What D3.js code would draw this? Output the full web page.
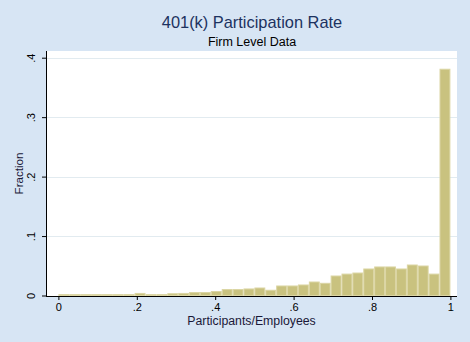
<!DOCTYPE html>
<html>
<head>
<meta charset="utf-8">
<script src="https://cdn.jsdelivr.net/npm/d3@7"></script>
<style>
  html, body { margin: 0; padding: 0; background: #d7e5f4; }
  svg { display: block; }
  text { font-family: "Liberation Sans", Arial, sans-serif; }
</style>
</head>
<body>
<svg id="chart" width="470" height="342"></svg>
<script>
// ---- data ----
const binCount = 36;
const binStart = 0;
const binEnd = 1;
const fractions = [
  0.0015, 0.0015, 0.0015, 0.0015, 0.0015, 0.0015, 0.0015, 0.0035, 0.0015, 0.0015,
  0.003, 0.0035, 0.005, 0.005, 0.0067, 0.010, 0.010, 0.011, 0.0126, 0.0088,
  0.016, 0.016, 0.0177, 0.0227, 0.0205, 0.0328, 0.036, 0.0378, 0.0446, 0.048,
  0.048, 0.0446, 0.0513, 0.0496, 0.036, 0.3806
];
const xTicks = [0, 0.2, 0.4, 0.6, 0.8, 1];
const xTickLabels = ["0", ".2", ".4", ".6", ".8", "1"];
const yTicks = [0, 0.1, 0.2, 0.3, 0.4];
const yTickLabels = ["0", ".1", ".2", ".3", ".4"];
const title = "401(k) Participation Rate";
const subtitle = "Firm Level Data";
const xTitle = "Participants/Employees";
const yTitle = "Fraction";

// ---- layout ----
const svg = d3.select("#chart");
const W = 470, H = 342;
const plot = { left: 46, right: 457, top: 51, bottom: 296 };

svg.append("rect").attr("width", W).attr("height", H).attr("fill", "#d7e5f4");
svg.append("rect")
  .attr("x", plot.left).attr("y", plot.top)
  .attr("width", plot.right - plot.left).attr("height", plot.bottom - plot.top)
  .attr("fill", "#ffffff");

const x = d3.scaleLinear().domain([0, 1]).range([58.4, 450.4]);
const y = d3.scaleLinear().domain([0, 0.4]).range([295.5, 57.7]);

// gridlines
svg.append("g").selectAll("line")
  .data(yTicks.filter(d => d > 0))
  .join("line")
  .attr("x1", plot.left).attr("x2", plot.right)
  .attr("y1", d => Math.round(y(d)) + 0.5).attr("y2", d => Math.round(y(d)) + 0.5)
  .attr("stroke", "#e2ebf0").attr("stroke-width", 1);

// bars
const bw = (binEnd - binStart) / binCount;
const bins = fractions.map((v, i) => ({ x0: binStart + i * bw, x1: binStart + (i + 1) * bw, v }));
svg.append("g").selectAll("rect")
  .data(bins)
  .join("rect")
  .attr("x", d => x(d.x0) + 0.5)
  .attr("width", d => x(d.x1) - x(d.x0) - 1)
  .attr("y", d => y(d.v))
  .attr("height", d => Math.max(0.8, y(0) - y(d.v)))
  .attr("fill", "#c9c27f")
  .attr("stroke", "#dbd5a3")
  .attr("stroke-width", 1);

// x axis
const xAxis = d3.axisBottom(x)
  .tickValues(xTicks)
  .tickFormat((d, i) => xTickLabels[i])
  .tickSize(4).tickSizeOuter(0).tickPadding(3);
const gx = svg.append("g").attr("transform", `translate(0,${plot.bottom})`).call(xAxis);
gx.select(".domain").remove();
gx.append("line").attr("x1", plot.left).attr("x2", plot.right)
  .attr("y1", 0.5).attr("y2", 0.5).attr("stroke", "#000");
gx.selectAll(".tick line").attr("stroke", "#000");
gx.selectAll(".tick text")
  .attr("font-size", 11).attr("fill", "#000")
  .attr("font-family", "'Liberation Sans', Arial, sans-serif");

// y axis
const yAxis = d3.axisLeft(y)
  .tickValues(yTicks)
  .tickFormat((d, i) => yTickLabels[i])
  .tickSize(4).tickSizeOuter(0).tickPadding(5);
const gy = svg.append("g").attr("transform", `translate(${plot.left},0)`).call(yAxis);
gy.select(".domain").remove();
gy.append("line").attr("x1", 0.5).attr("x2", 0.5)
  .attr("y1", plot.top).attr("y2", plot.bottom + 1).attr("stroke", "#000");
gy.selectAll(".tick line").attr("stroke", "#000");
gy.selectAll(".tick text")
  .attr("font-size", 11).attr("fill", "#000")
  .attr("font-family", "'Liberation Sans', Arial, sans-serif")
  .attr("x", null).attr("dy", null)
  .attr("text-anchor", "middle")
  .attr("transform", "translate(-11,0) rotate(-90)");

// titles
svg.append("text").attr("x", 252).attr("y", 28)
  .attr("text-anchor", "middle").attr("font-size", 16.4).attr("fill", "#1c3260")
  .text(title);
svg.append("text").attr("x", 252).attr("y", 46)
  .attr("text-anchor", "middle").attr("font-size", 12.5).attr("fill", "#000")
  .text(subtitle);
svg.append("text").attr("x", 251.5).attr("y", 325)
  .attr("text-anchor", "middle").attr("font-size", 12.3).attr("fill", "#1a1838")
  .text(xTitle);
svg.append("text")
  .attr("transform", `translate(23.3,173.5) rotate(-90)`)
  .attr("text-anchor", "middle").attr("font-size", 11.6).attr("fill", "#1a1838")
  .text(yTitle);
</script>
</body>
</html>
